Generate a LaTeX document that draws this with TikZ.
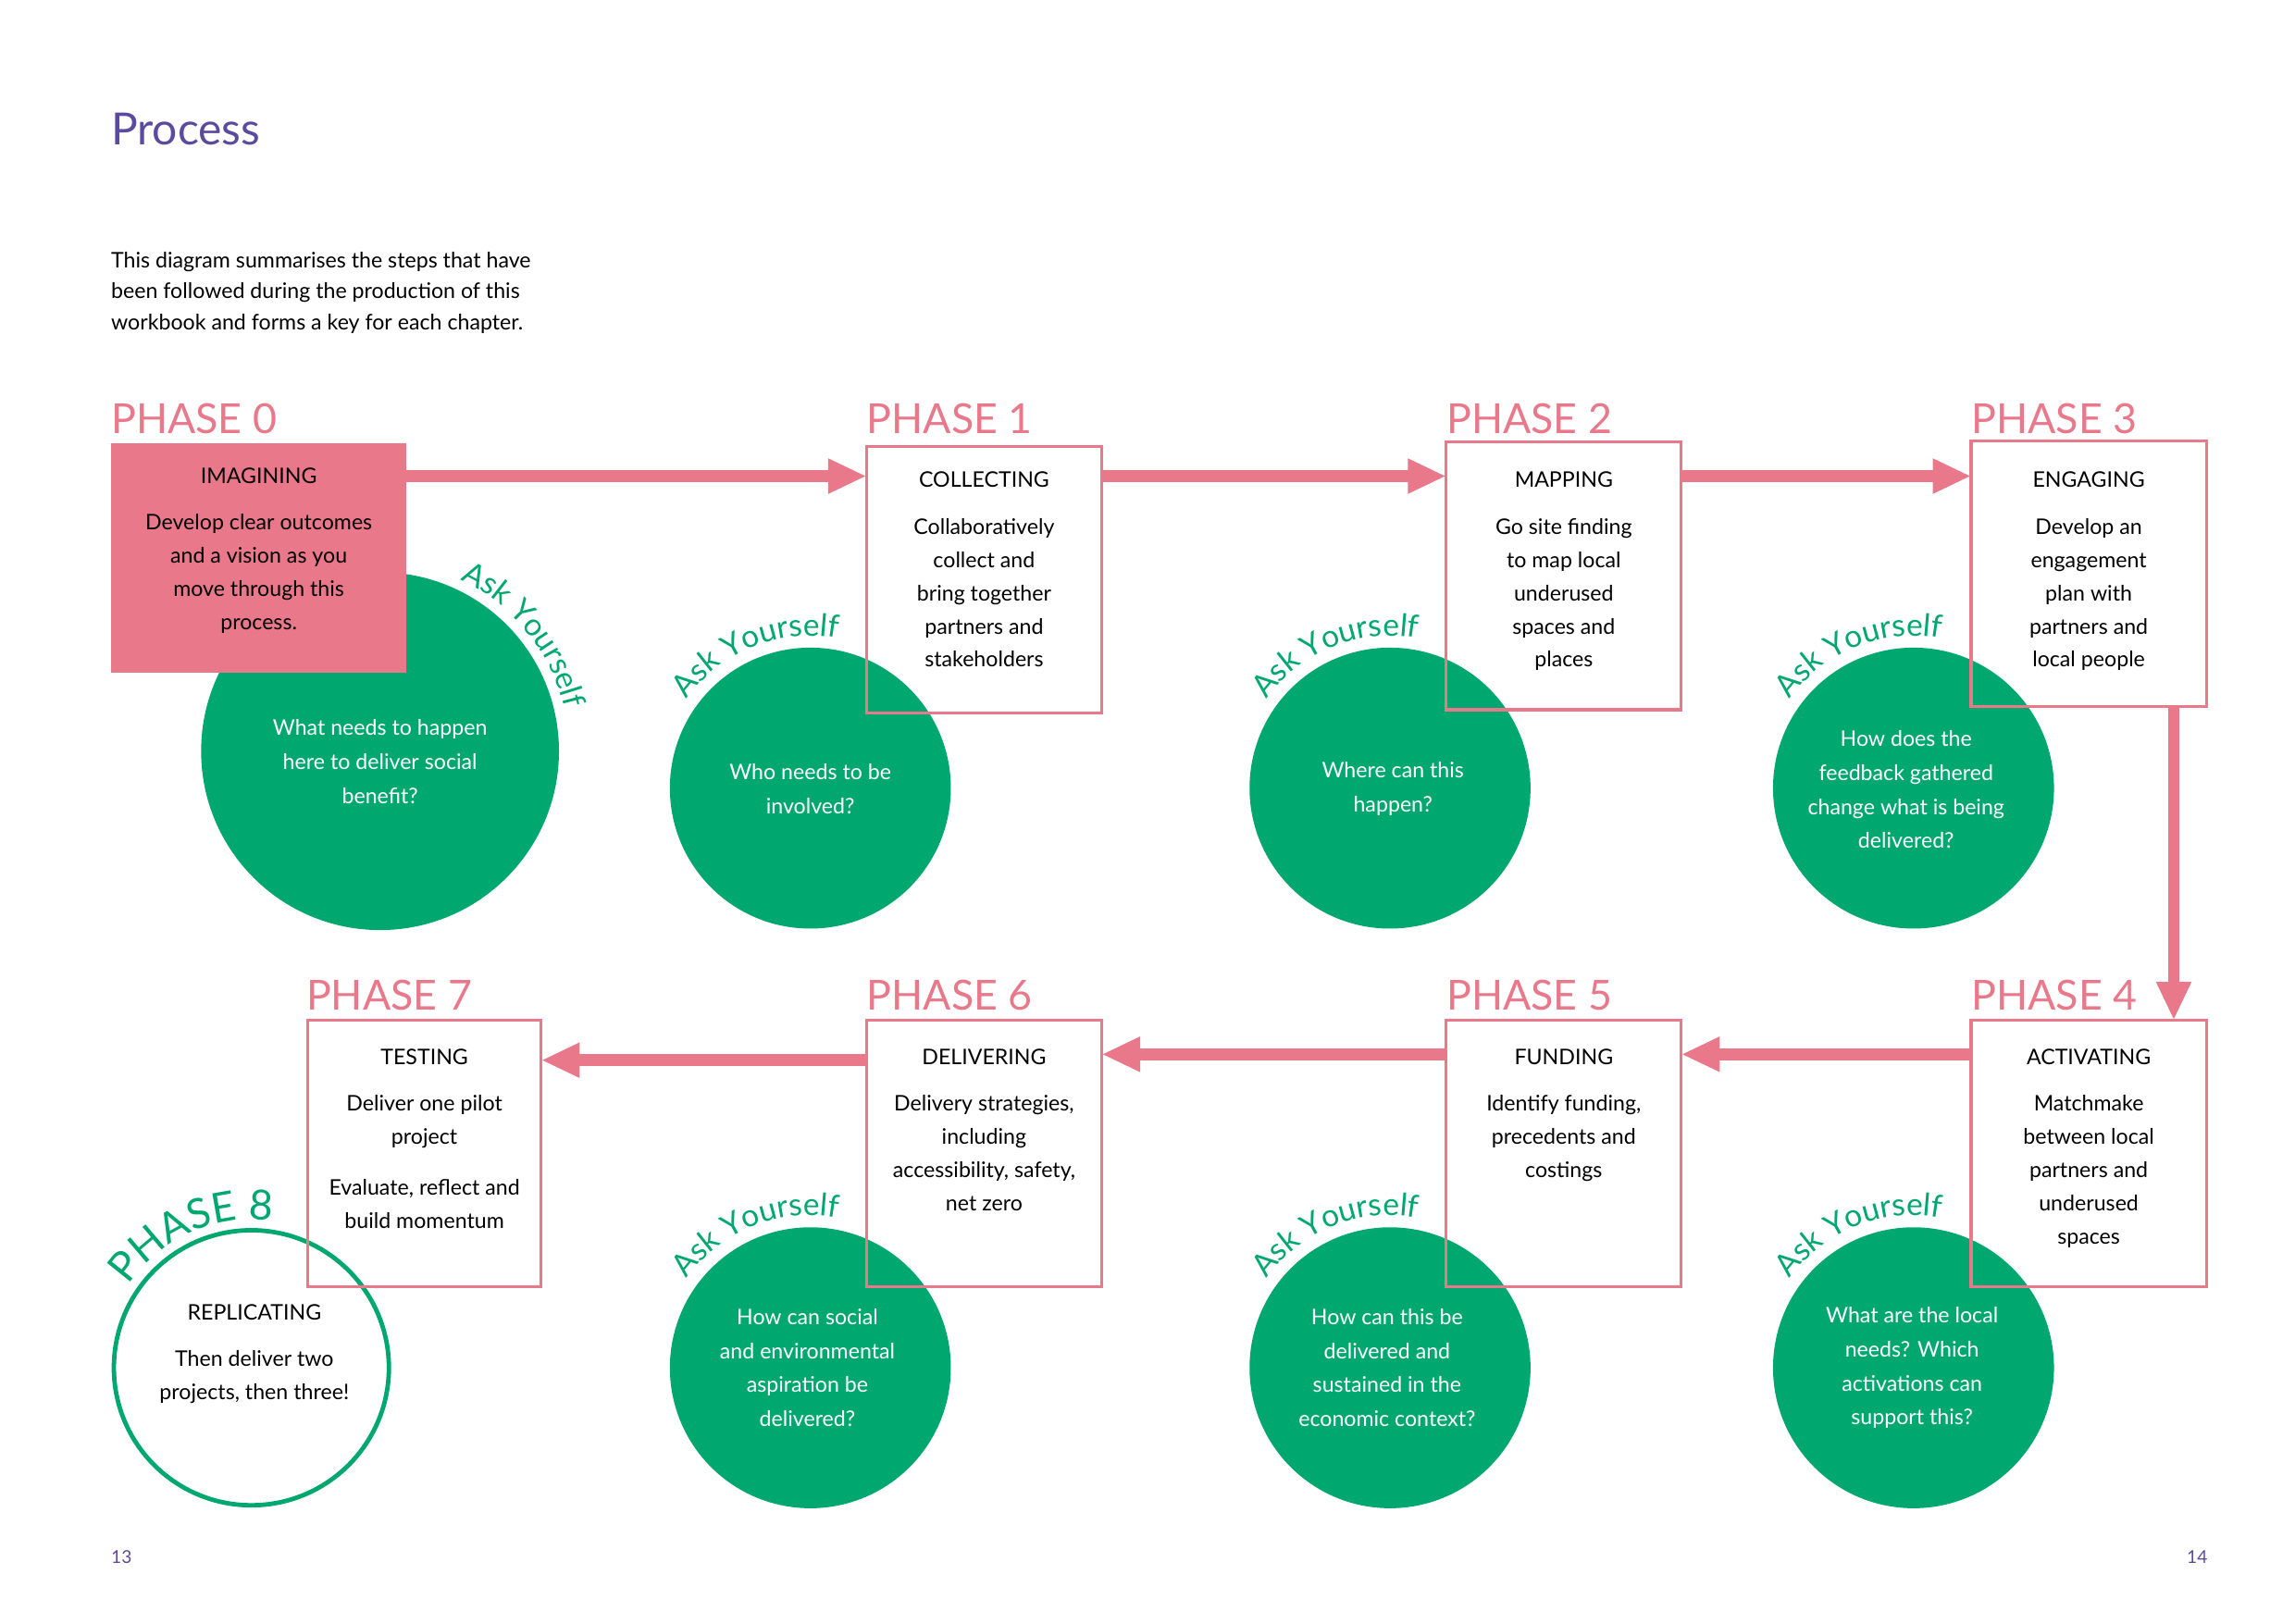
\documentclass[tikz,border=0pt]{standalone}
\usepackage{fontspec}
\setmainfont{Lato}
\usetikzlibrary{arrows.meta,decorations.text}
\definecolor{pk}{HTML}{E8788A}
\definecolor{gr}{HTML}{00A870}
\definecolor{pu}{HTML}{5B4A9E}
\begin{document}
\begin{tikzpicture}[x=1pt,y=1pt,
  body/.style={font=\fontsize{14.5}{22.5}\selectfont,align=center,anchor=north,inner sep=0},
  box/.style={draw=pk,line width=2pt},
  ball/.style={fill=gr},
  ctext/.style={font=\fontsize{14.5}{23}\selectfont,align=center,text=white,inner sep=0},
  ph/.style={font=\fontsize{28}{28}\selectfont,text=pk,anchor=base west,inner sep=0},
  arr/.style={draw=pk,line width=8pt,-{Triangle[length=26pt,width=22pt]}},
  ask/.style={decorate,decoration={text along path,text align=center,
     text={|\color{gr}\fontsize{21}{21}\selectfont|Ask Yourself}}}]
\useasboundingbox (0,0) rectangle (1552,1098);
\node[anchor=base west,inner sep=0,text=pu,font=\fontsize{30}{30}\selectfont] (title) at (75,1000) {Process};
\node[anchor=north west,inner sep=0,align=left,font=\fontsize{14.5}{21}\selectfont] (intro) at (75,928)
 {This diagram summarises the steps that have\\been followed during the production of this\\workbook and forms a key for each chapter.};
% circles
\fill[ball] (257,590) circle (121) coordinate (c0);
\fill[ball] (548,565) circle (95);
\fill[ball] (940,565) circle (95);
\fill[ball] (1294,565) circle (95);
\fill[ball] (548,173) circle (95);
\fill[ball] (940,173) circle (95);
\fill[ball] (1294,173) circle (95);
\draw[gr,line width=3pt] (170,173) circle (93);
% ask yourself
\path[ask] (257,590) ++(70:128) arc[start angle=70,end angle=8,radius=128];
\foreach \cx/\cy in {548/565,940/565,1294/565,548/173,940/173,1294/173}
  \path[ask] (\cx,\cy) ++(152:103) arc[start angle=152,end angle=72,radius=103];
\path[decorate,decoration={text along path,text align=center,
  text={|\color{gr}\fontsize{28}{28}\selectfont|PHASE 8}}] (170,173) ++(150:100) arc[start angle=150,end angle=78,radius=100];
% boxes
\fill[pk] (75,798) rectangle (275,643);
\draw[box] (586,796) rectangle (745,616);
\draw[box] (978,799) rectangle (1137,618);
\draw[box] (1333,800) rectangle (1492,620);
\draw[box] (208,408) rectangle (366,228);
\draw[box] (586,408) rectangle (745,228);
\draw[box] (978,408) rectangle (1137,228);
\draw[box] (1333,408) rectangle (1492,228);
% phase labels
\node[ph] (p0) at (75,805) {PHASE 0};
\node[ph] (p1) at (586,805) {PHASE 1};
\node[ph] (p2) at (978,805) {PHASE 2};
\node[ph] (p3) at (1333,805) {PHASE 3};
\node[ph] (p7) at (207,415) {PHASE 7};
\node[ph] (p6) at (586,415) {PHASE 6};
\node[ph] (p5) at (978,415) {PHASE 5};
\node[ph] (p4) at (1333,415) {PHASE 4};
% arrows
\coordinate (a0) at (275,776); \coordinate (a1) at (586,776);
\coordinate (a2) at (745,776); \coordinate (a3) at (978,776);
\coordinate (a4) at (1137,776); \coordinate (a5) at (1333,776);
\coordinate (a6) at (1470,620); \coordinate (a7) at (1470,408);
\coordinate (a8) at (1333,385); \coordinate (a9) at (1137,385);
\coordinate (a10) at (978,385); \coordinate (a11) at (745,385);
\coordinate (a12) at (586,381); \coordinate (a13) at (366,381);
\draw[arr] (a0)--(a1); \draw[arr] (a2)--(a3); \draw[arr] (a4)--(a5);
\draw[arr] (a6)--(a7); \draw[arr] (a8)--(a9); \draw[arr] (a10)--(a11); \draw[arr] (a12)--(a13);
% box texts
\node[body] (t0) at (175,782) {IMAGINING\\[9pt]Develop clear outcomes\\and a vision as you\\move through this\\process.};
\node[body] (t1) at (665.5,779) {COLLECTING\\[9pt]Collaboratively\\collect and\\bring together\\partners and\\stakeholders};
\node[body] (t2) at (1057.5,779) {MAPPING\\[9pt]Go site finding\\to map local\\underused\\spaces and\\places};
\node[body] (t3) at (1412.5,779) {ENGAGING\\[9pt]Develop an\\engagement\\plan with\\partners and\\local people};
\node[body] (t7) at (287,389) {TESTING\\[9pt]Deliver one pilot\\project\\[12pt]Evaluate, reflect and\\build momentum};
\node[body] (t6) at (665.5,389) {DELIVERING\\[9pt]Delivery strategies,\\including\\accessibility, safety,\\net zero};
\node[body] (t5) at (1057.5,389) {FUNDING\\[9pt]Identify funding,\\precedents and\\costings};
\node[body] (t4) at (1412.5,389) {ACTIVATING\\[9pt]Matchmake\\between local\\partners and\\underused\\spaces};
\node[body] (t8) at (172,216) {REPLICATING\\[9pt]Then deliver two\\projects, then three!};
% circle texts
\node[ctext] (q0) at (257,583) {What needs to happen\\here to deliver social\\benefit?};
\node[ctext] (q1) at (548,564.5) {Who needs to be\\involved?};
\node[ctext] (q2) at (942,564.5) {Where can this\\happen?};
\node[ctext] (q3) at (1289,564) {How does the\\feedback gathered\\change what is being\\delivered?};
\node[ctext] (q6) at (546,173) {How can social\\and environmental\\aspiration be\\delivered?};
\node[ctext] (q5) at (938,173) {How can this be\\delivered and\\sustained in the\\economic context?};
\node[ctext] (q4) at (1293,173) {What are the local\\needs? Which\\activations can\\support this?};
% page numbers
\node[text=pu,font=\fontsize{12}{12}\selectfont,anchor=west,inner sep=0] (n13) at (75,45) {13};
\node[text=pu,font=\fontsize{12}{12}\selectfont,anchor=east,inner sep=0] (n14) at (1493,45) {14};
\end{tikzpicture}
\end{document}
